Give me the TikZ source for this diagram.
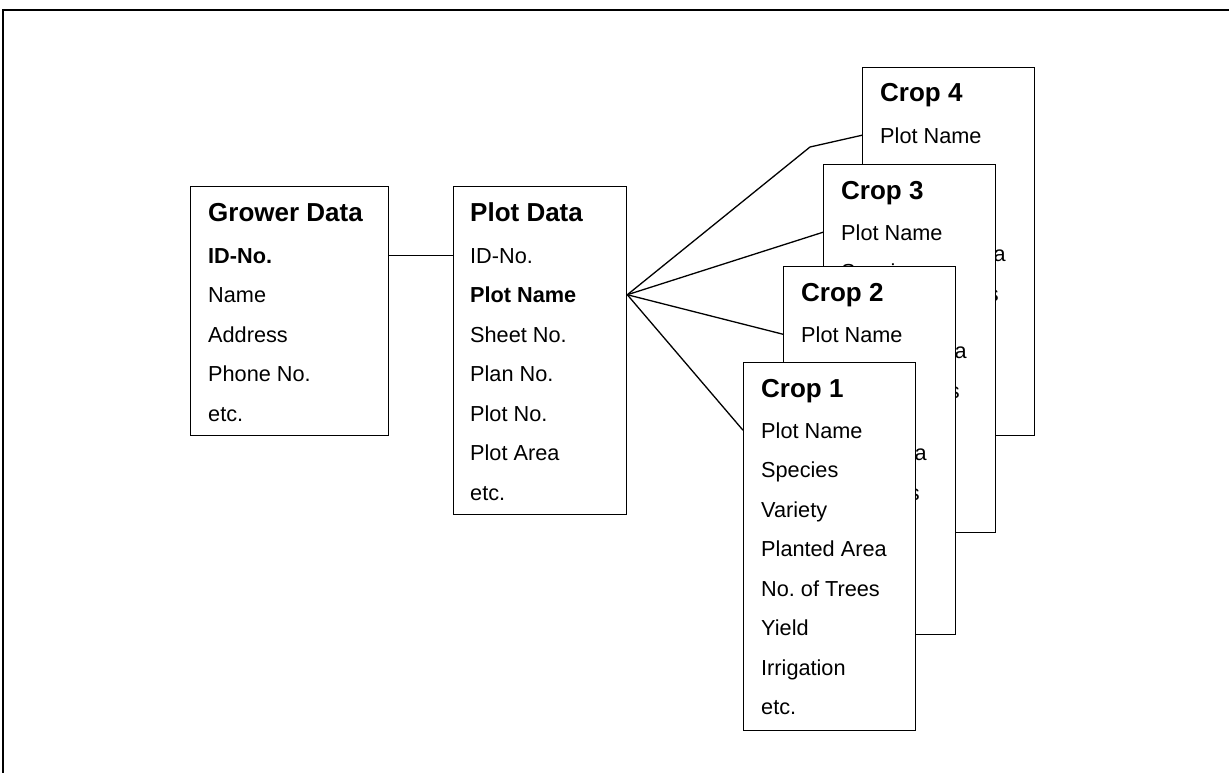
\documentclass[tikz,border=0pt]{standalone}
\usepackage{fontspec}
\setmainfont{Liberation Sans}
\frenchspacing

\begin{document}
\begin{tikzpicture}[x=1pt,y=-1pt,
  tbl/.style={draw,line width=1.3pt,fill=white,anchor=north west,inner sep=0pt},
  ttl/.style={anchor=base west,inner sep=0pt,font=\fontsize{26}{28}\selectfont\bfseries},
  fld/.style={anchor=base west,inner sep=0pt,font=\fontsize{21.7}{24}\selectfont},
  link/.style={line width=1.3pt}]
  \useasboundingbox (0,0) rectangle (1229,773);
  \draw[line width=2pt] (1229,10) -- (3,10) -- (3,773);

  % grower table
  \node[tbl,minimum width=198pt,minimum height=249pt] (grower) at (190,186) {};
  \node[ttl] (grower-t) at (208,221) {Grower Data};
  \foreach \t [count=\k] in {\textbf{ID-No.},Name,Address,Phone No.,etc.}
    \node[fld] (grower-r\k) at (208,223.5+39.5*\k) {\t};

  % plot table
  \node[tbl,minimum width=173pt,minimum height=328pt] (plot) at (453,186) {};
  \node[ttl] (plot-t) at (470,221) {Plot Data};
  \foreach \t [count=\k] in {ID-No.,\textbf{Plot Name},Sheet No.,Plan No.,Plot No.,Plot Area,etc.}
    \node[fld] (plot-r\k) at (470,223.5+39.5*\k) {\t};

  % crop tables, back to front
  \foreach \c/\x/\y in {4/862/67,3/823/164,2/783/266,1/743/362}{
    \node[tbl,minimum width=172pt,minimum height=368pt] (crop\c) at (\x,\y) {};
    \node[ttl] (crop\c-t) at (\x+18,\y+35) {Crop \c};
    \foreach \t [count=\k] in {Plot Name,Species,Variety,Planted Area,No. of Trees,Yield,Irrigation,etc.}
      \node[fld] (crop\c-r\k) at (\x+18,\y+36.5+39.5*\k) {\t};
  }

  % links
  \draw[link] (grower.east |- grower-r1) -- (plot.west |- grower-r1);
  \coordinate (fan) at (plot.east |- plot-r2);
  \coordinate (bend) at (810,147);
  \draw[link] (fan) -- (bend) -- (crop4.west |- crop4-r1);
  \draw[link] (fan) -- (crop3.west |- crop3-r1);
  \draw[link] (fan) -- (crop2.west |- crop2-r1);
  \draw[link] (fan) -- (crop1.west |- crop1-r1);
\end{tikzpicture}
\end{document}
